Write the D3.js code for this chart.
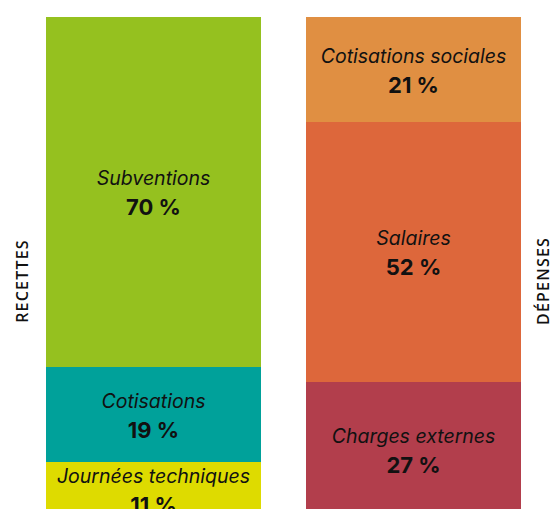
<!DOCTYPE html>
<html>
<head>
<meta charset="utf-8">
<script src="https://cdn.jsdelivr.net/npm/d3@7"></script>
<style>
  body { margin: 0; background: #fff; }
  .seg-label { font-family: Inter, sans-serif; font-style: italic; font-size: 19.5px; fill: #111; }
  .seg-pct { font-family: Inter, sans-serif; font-weight: 700; font-size: 22px; fill: #111; }
  .side-label { font-family: "Open Sans", sans-serif; font-weight: 600; font-size: 16px; letter-spacing: 1.2px; fill: #111; }
</style>
</head>
<body>
<div class="chart"></div>
<script>
// groups (columns) and their segments, top to bottom
var groups = ["RECETTES", "DÉPENSES"];

var recettesLabels = ["Subventions", "Cotisations", "Journées techniques"];
var recettesValues = [70, 19, 11];
var recettesColors = ["#95c11f", "#00a19a", "#dedb00"];

var depensesLabels = ["Cotisations sociales", "Salaires", "Charges externes"];
var depensesValues = [21, 52, 27];
var depensesColors = ["#e08f42", "#dd673b", "#b23e4c"];

var svgWidth = 553;
var svgHeight = 509;

var svg = d3.select(".chart")
  .append("svg")
  .attr("width", svgWidth)
  .attr("height", svgHeight);

// horizontal placement of the two columns
var xScale = d3.scaleBand()
  .domain(groups)
  .range([46, 521])
  .paddingInner(45 / 260)
  .paddingOuter(0);

// share -> pixels, the columns run off the bottom edge
var yScale = d3.scaleLinear()
  .domain([0, 100])
  .range([17, 517]);

function buildSegments(group, labels, values, colors) {
  var ends = d3.cumsum(values);
  return values.map(function(v, i) {
    return {
      group: group,
      label: labels[i],
      value: v,
      color: colors[i],
      y0: ends[i] - v,
      y1: ends[i]
    };
  });
}

var segments = buildSegments(groups[0], recettesLabels, recettesValues, recettesColors)
  .concat(buildSegments(groups[1], depensesLabels, depensesValues, depensesColors));

var segGroup = svg.selectAll("g.seg")
  .data(segments)
  .enter()
  .append("g")
  .attr("class", "seg");

segGroup.append("rect")
  .attr("x", d => xScale(d.group))
  .attr("y", d => yScale(d.y0))
  .attr("width", xScale.bandwidth())
  .attr("height", d => yScale(d.y1) - yScale(d.y0))
  .attr("fill", d => d.color);

segGroup.append("text")
  .attr("class", "seg-label")
  .attr("text-anchor", "middle")
  .attr("x", d => xScale(d.group) + xScale.bandwidth() / 2)
  .attr("y", d => (yScale(d.y0) + yScale(d.y1)) / 2 - 7)
  .text(d => d.label);

segGroup.append("text")
  .attr("class", "seg-pct")
  .attr("text-anchor", "middle")
  .attr("x", d => xScale(d.group) + xScale.bandwidth() / 2)
  .attr("y", d => (yScale(d.y0) + yScale(d.y1)) / 2 + 23)
  .text(d => d.value + " %");

// vertical column titles
var sideX = [xScale(groups[0]) - 18, xScale(groups[1]) + xScale.bandwidth() + 28];

svg.selectAll("text.side-label")
  .data(groups)
  .enter()
  .append("text")
  .attr("class", "side-label")
  .attr("text-anchor", "middle")
  .attr("transform", (d, i) => `translate(${sideX[i]}, 281) rotate(-90)`)
  .text(d => d);
</script>
</body>
</html>
